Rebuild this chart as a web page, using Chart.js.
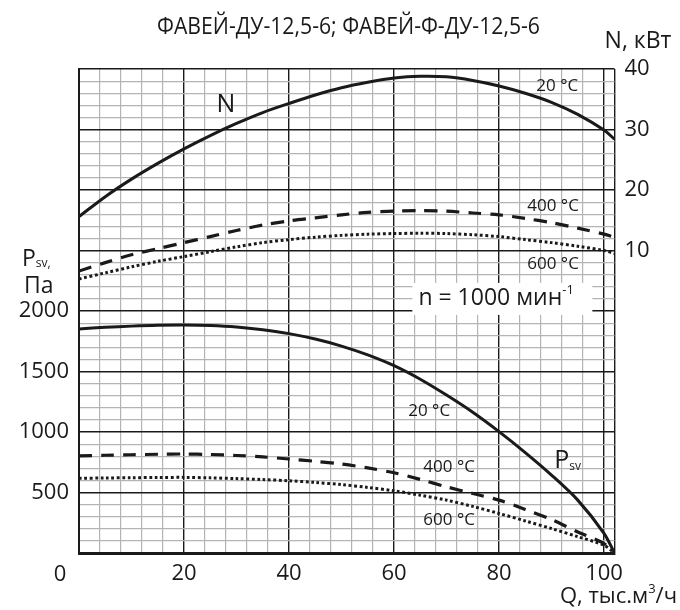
<!DOCTYPE html>
<html><head><meta charset="utf-8">
<script src="https://cdn.jsdelivr.net/npm/chart.js@4"></script>
<style>html,body{margin:0;padding:0;background:#fff}#wrap{width:680px;height:610px}</style>
</head><body><div id="wrap"><canvas id="c" width="680" height="610"></canvas></div>
<script>
// Flow rate, thousand m3/h
const Q = [0, 5, 10, 15, 20, 25, 30, 35, 40, 45, 50, 55, 60, 65, 70, 75, 80, 85, 90, 95, 100, 102];
// Power N, kW
const N20  = [15.6, 18.9, 21.8, 24.4, 26.8, 29.0, 31.0, 32.8, 34.3, 35.7, 36.9, 37.8, 38.5, 38.8, 38.7, 38.1, 37.2, 36.0, 34.5, 32.5, 29.9, 28.4];
const N400 = [6.6, 8.0, 9.3, 10.3, 11.3, 12.3, 13.3, 14.2, 14.9, 15.4, 15.9, 16.3, 16.5, 16.6, 16.5, 16.2, 15.9, 15.3, 14.6, 13.7, 12.7, 12.2];
const N600 = [5.3, 6.3, 7.3, 8.2, 9.0, 9.8, 10.6, 11.3, 11.8, 12.2, 12.5, 12.7, 12.8, 12.85, 12.8, 12.6, 12.3, 11.8, 11.3, 10.7, 10.0, 9.5];
// Static pressure Psv, Pa
const P20  = [1852, 1865, 1875, 1882, 1884, 1880, 1868, 1845, 1813, 1768, 1710, 1637, 1548, 1436, 1305, 1163, 1003, 830, 644, 437, 163, 0];
const P400 = [802, 808, 812, 816, 818, 814, 806, 794, 777, 758, 735, 703, 663, 608, 547, 492, 437, 360, 277, 174, 78, 0];
const P600 = [617, 620, 622, 624, 625, 621, 615, 607, 597, 583, 565, 542, 514, 478, 437, 385, 327, 265, 202, 135, 64, 0];
// Tick labels
const xLabels = [20, 40, 60, 80, 100];
const yLabels = [500, 1000, 1500, 2000];
const y2Labels = [10, 20, 30, 40];
const xTicks = [];
for (let v = 0; v <= 100; v += 4) xTicks.push(v);
xTicks.push(102);

const FONT = "'Open Sans', 'Noto Sans', sans-serif";
const DARK = '#1a1a1a', GRAY = '#b4b4b4';

function pts(ys) { return Q.map((q, i) => ({x: q, y: ys[i]})); }
function ds(ys, axis, dash, w) {
  return {data: pts(ys), yAxisID: axis, borderColor: DARK, borderWidth: w,
    borderDash: dash, pointRadius: 0, tension: 0.3, fill: false,
    borderCapStyle: 'butt'};
}
const DASH = [13, 9], DOT = [2.8, 2.6];

const textPlugin = {
  id: 'texts',
  beforeDatasetsDraw(chart) {
    const {ctx, scales: {x, y}} = chart;
    // n = 1000 box
    const bx = x.getPixelForValue(63.5), by = y.getPixelForValue(2100);
    ctx.save();
    ctx.fillStyle = '#fff';
    ctx.fillRect(bx, by - 16, 180, 32);
    ctx.fillStyle = DARK;
    ctx.font = '23px ' + FONT;
    ctx.textBaseline = 'middle';
    ctx.textAlign = 'left';
    const t = 'n = 1000 мин';
    ctx.fillText(t, bx + 6, by);
    const w = ctx.measureText(t).width;
    ctx.font = '13px ' + FONT;
    ctx.fillText('-1', bx + 6 + w, by - 9);
    ctx.restore();
  },
  afterDraw(chart) {
    const {ctx, scales: {x, y, y2}, chartArea: ca} = chart;
    ctx.save();
    ctx.fillStyle = DARK;
    ctx.textBaseline = 'middle';
    const lbl = (s, q, v, ax, size, align) => {
      ctx.font = size + 'px ' + FONT;
      ctx.textAlign = align || 'center';
      ctx.fillText(s, x.getPixelForValue(q), ax.getPixelForValue(v));
    };
    lbl('N', 28, 34, y2, 25);
    lbl('20 °C', 91.1, 37.1, y2, 17);
    lbl('400 °C', 90.3, 17.4, y2, 17);
    lbl('600 °C', 90.3, 7.8, y2, 17);
    lbl('20 °C', 66.7, 1175, y, 17);
    lbl('400 °C', 70.5, 712, y, 17);
    lbl('600 °C', 70.5, 272, y, 17);
    // Psv label
    ctx.font = '25px ' + FONT; ctx.textAlign = 'left';
    const px = x.getPixelForValue(90.5), py = y.getPixelForValue(760);
    ctx.fillText('P', px, py);
    const pw = ctx.measureText('P').width;
    ctx.font = '12px ' + FONT;
    ctx.fillText('sv', px + pw, py + 6);
    // left axis title
    ctx.font = '23px ' + FONT; ctx.textAlign = 'left';
    ctx.fillText('P', 22, 259);
    const lw = ctx.measureText('P').width;
    ctx.font = '12px ' + FONT;
    ctx.fillText('sv,', 22 + lw, 264);
    ctx.font = '23px ' + FONT;
    ctx.fillText('Па', 24, 286);
    // right axis title
    ctx.textAlign = 'center';
    ctx.fillText('N, кВт', 638, 41);
    // x origin label
    ctx.font = '22px ' + FONT;
    ctx.fillText('0', ca.left - 19, ca.bottom + 22);
    // x axis title
    ctx.textAlign = 'right';
    ctx.font = '22px ' + FONT;
    ctx.fillText('/ч', 677, 597);
    const w1 = ctx.measureText('/ч').width;
    ctx.font = '13px ' + FONT;
    ctx.fillText('3', 677 - w1, 589);
    const w2 = ctx.measureText('3').width;
    ctx.font = '22px ' + FONT;
    ctx.fillText('Q, тыс.м', 677 - w1 - w2, 597);
    // title (condensed)
    const title = 'ФАВЕЙ-ДУ-12,5-6; ФАВЕЙ-Ф-ДУ-12,5-6';
    ctx.font = '24px ' + FONT;
    ctx.textAlign = 'center';
    const tw = ctx.measureText(title).width;
    const sx = 383 / tw;
    ctx.translate(348.5, 27);
    ctx.scale(sx, 1);
    ctx.fillText(title, 0, 0);
    ctx.restore();
  }
};

const isMajorX = v => v % 20 === 0 || v === 102;
new Chart(document.getElementById('c'), {
  type: 'line',
  data: {datasets: [
    ds(N20, 'y2', [], 3), ds(N400, 'y2', DASH, 3.2), ds(N600, 'y2', DOT, 3),
    ds(P20, 'y', [], 3), ds(P400, 'y', DASH, 3.2), ds(P600, 'y', DOT, 3)
  ]},
  options: {
    responsive: false, animation: false, events: [],
    layout: {padding: {top: 69, left: 0, right: 0, bottom: 0}},
    plugins: {legend: {display: false}, tooltip: {enabled: false}},
    scales: {
      x: {type: 'linear', min: 0, max: 102, position: 'bottom',
        afterBuildTicks: s => { s.ticks = xTicks.map(v => ({value: v})); },
        afterFit: s => { s.height = 57; },
        ticks: {autoSkip: false, maxRotation: 0, padding: 8, color: DARK,
          font: {family: FONT, size: 22},
          callback: v => xLabels.includes(v) ? String(v) : ''},
        grid: {drawTicks: false,
          color: c => isMajorX(c.tick.value) ? DARK : GRAY,
          lineWidth: c => isMajorX(c.tick.value) ? 1.4 : 1.2},
        border: {display: true, color: DARK, width: 3}
      },
      y: {type: 'linear', min: 0, max: 4000, position: 'left',
        afterFit: s => { s.width = 79; },
        ticks: {stepSize: 100, autoSkip: false, padding: 10, color: DARK,
          font: {family: FONT, size: 22},
          callback: v => yLabels.includes(v) ? String(v) : ''},
        grid: {drawTicks: false,
          color: c => c.tick.value % 500 === 0 ? DARK : GRAY,
          lineWidth: c => c.tick.value % 500 === 0 ? 1.4 : 1.2},
        border: {display: true, color: DARK, width: 2}
      },
      y2: {type: 'linear', min: -40, max: 40, position: 'right',
        afterFit: s => { s.width = 65.5; },
        ticks: {stepSize: 10, autoSkip: false, padding: 10, color: DARK,
          font: {family: FONT, size: 22},
          callback: v => y2Labels.includes(v) ? String(v) : ''},
        grid: {display: false, drawTicks: false},
        border: {display: false}
      }
    }
  },
  plugins: [textPlugin]
});
</script>
</body></html>
